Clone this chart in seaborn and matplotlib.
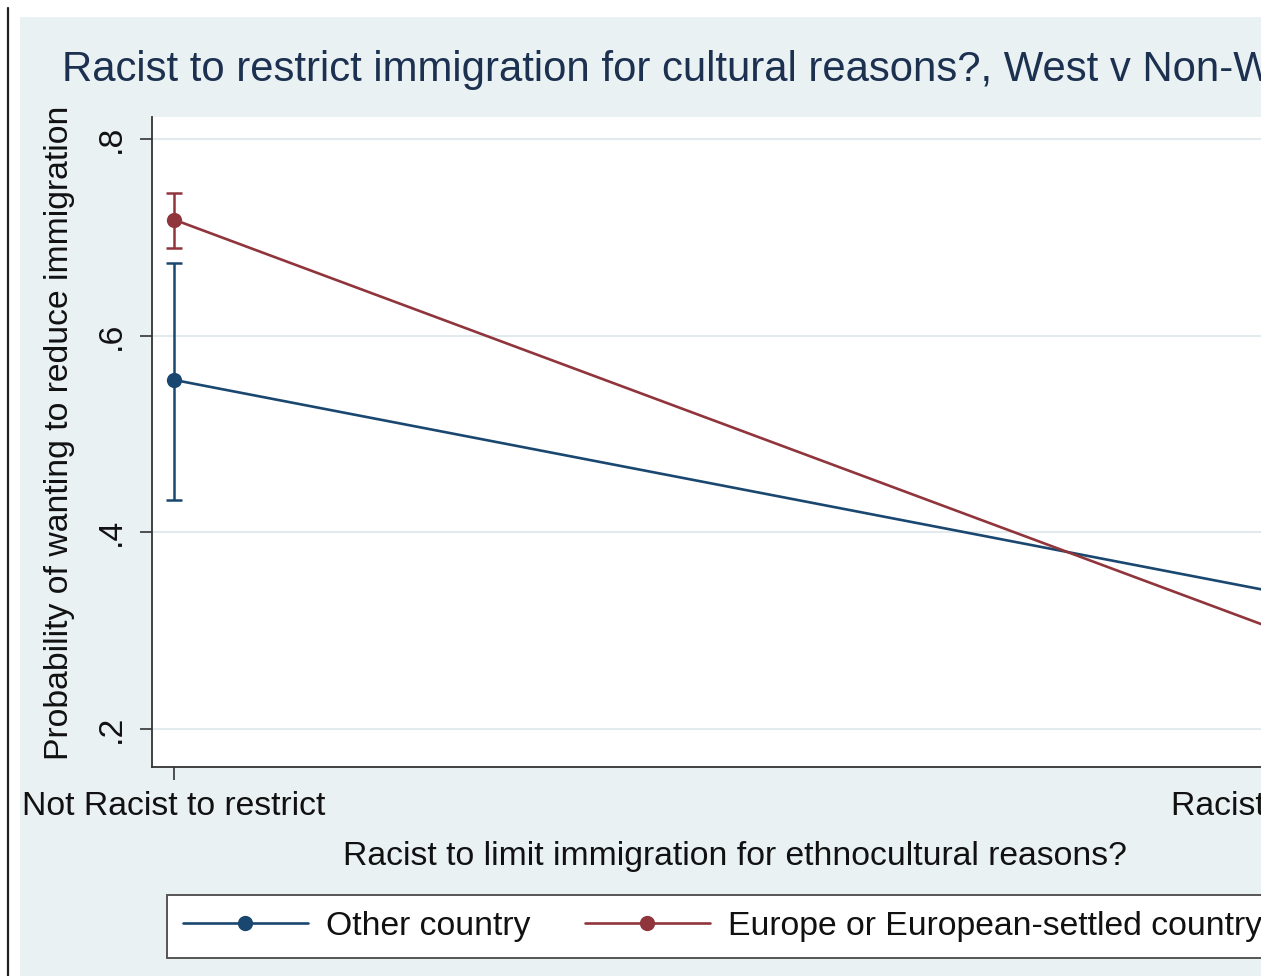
import numpy as np
import pandas as pd
import matplotlib
matplotlib.use("Agg")
import matplotlib.pyplot as plt
from matplotlib.patches import Rectangle
from matplotlib.lines import Line2D
import seaborn as sns

# ---- data ----
x_labels = ["Not Racist to restrict", "Racist to restrict"]
x_pos = [0, 1]
groups = ["Other country", "Europe or European-settled country"]
other_vals = [0.555, 0.336]
europe_vals = [0.718, 0.295]
other_ci_low = [0.433, np.nan]
other_ci_high = [0.674, np.nan]
europe_ci_low = [0.689, np.nan]
europe_ci_high = [0.745, np.nan]
y_ticks = [0.2, 0.4, 0.6, 0.8]
y_tick_labels = [".2", ".4", ".6", ".8"]

title = "Racist to restrict immigration for cultural reasons?, West v Non-West"
xlabel = "Racist to limit immigration for ethnocultural reasons?"
ylabel = "Probability of wanting to reduce immigration"

NAVY = "#1a476f"
MAROON = "#90353b"
BG = "#eaf1f3"
GRID = "#e3eaed"

sns.set_theme(style="white")
plt.rcParams["font.family"] = ["Liberation Sans", "DejaVu Sans"]

W, H = 1261, 976
fig = plt.figure(figsize=(W / 100, H / 100), dpi=100)
fig.patch.set_facecolor("white")

# outer Stata-like background
fig.patches.append(Rectangle((20 / W, 0), 1.0, 1 - 17 / H, transform=fig.transFigure,
                             facecolor=BG, edgecolor="none", zorder=-10))
fig.lines.append(Line2D([8 / W, 8 / W], [0, 1 - 8 / H], transform=fig.transFigure,
                        color="#222222", lw=1.6, zorder=-5))

left, right, top, bottom = 152, 1314, 117, 767
ax = fig.add_axes([left / W, 1 - bottom / H, (right - left) / W, (bottom - top) / H])
ax.set_zorder(1)
ax.set_facecolor("white")

df = pd.DataFrame({
    "x": x_pos * 2,
    "y": other_vals + europe_vals,
    "group": [groups[0]] * 2 + [groups[1]] * 2,
})

# confidence intervals
for lo, hi, col in [(other_ci_low, other_ci_high, NAVY), (europe_ci_low, europe_ci_high, MAROON)]:
    lo = np.array(lo); hi = np.array(hi)
    mid = (lo + hi) / 2
    ax.errorbar(x_pos, mid, yerr=[mid - lo, hi - mid], fmt="none", ecolor=col,
                elinewidth=1.8, capsize=5.5, capthick=1.8, zorder=3)

sns.lineplot(data=df, x="x", y="y", hue="group", palette=[NAVY, MAROON],
             marker="o", markersize=11, markeredgewidth=0, linewidth=1.9,
             ax=ax, legend=False, zorder=4)

ax.set_xlim(-22 / 1118, 1 + 22 / 1118)
ax.set_ylim(0.8 - 628 / 983.3, 0.8 + 22 / 983.3)
ax.set_xticks(x_pos)
ax.set_xticklabels(x_labels, fontsize=24.3, color="#111111")
ax.set_yticks(y_ticks)
ax.set_yticklabels(y_tick_labels, fontsize=24.3, color="#111111", rotation=90, va="center")
ax.tick_params(axis="both", which="major", length=9, width=1.2, color="#333333",
               bottom=True, left=True, direction="out")
ax.tick_params(axis="x", pad=8)
ax.tick_params(axis="y", pad=9)
ax.set_xlabel("")
ax.set_ylabel("")
ax.grid(axis="y", color=GRID, lw=1.5)
ax.grid(axis="x", visible=False)
for s in ["top", "right"]:
    ax.spines[s].set_visible(False)
for s in ["left", "bottom"]:
    ax.spines[s].set_color("#333333")
    ax.spines[s].set_linewidth(1.3)

fig.text(62 / W, 1 - 81 / H, title, fontsize=30.2, color="#1c3050", ha="left", va="baseline")
fig.text(735 / W, 1 - 857 / H, xlabel, fontsize=24.3, color="#111111", ha="center", va="center")
fig.text(60 / W, 1 - 433 / H, ylabel, fontsize=24.3, color="#111111", ha="center", va="center",
         rotation=90)

handles = [Line2D([], [], color=NAVY, lw=1.9, marker="o", markersize=11, markeredgewidth=0),
           Line2D([], [], color=MAROON, lw=1.9, marker="o", markersize=11, markeredgewidth=0)]
leg = fig.legend(handles, groups, loc="upper left", bbox_to_anchor=(167 / W, 1 - 895 / H),
                 ncol=2, fontsize=24.3, frameon=True, fancybox=False, framealpha=1,
                 edgecolor="#555555", facecolor="white", handlelength=3.7,
                 handletextpad=0.55, columnspacing=1.6, borderpad=0.47, numpoints=1,
                 borderaxespad=0)
leg.get_frame().set_linewidth(1.4)
for t in leg.get_texts():
    t.set_color("#111111")

fig.savefig("out.png", dpi=100)
